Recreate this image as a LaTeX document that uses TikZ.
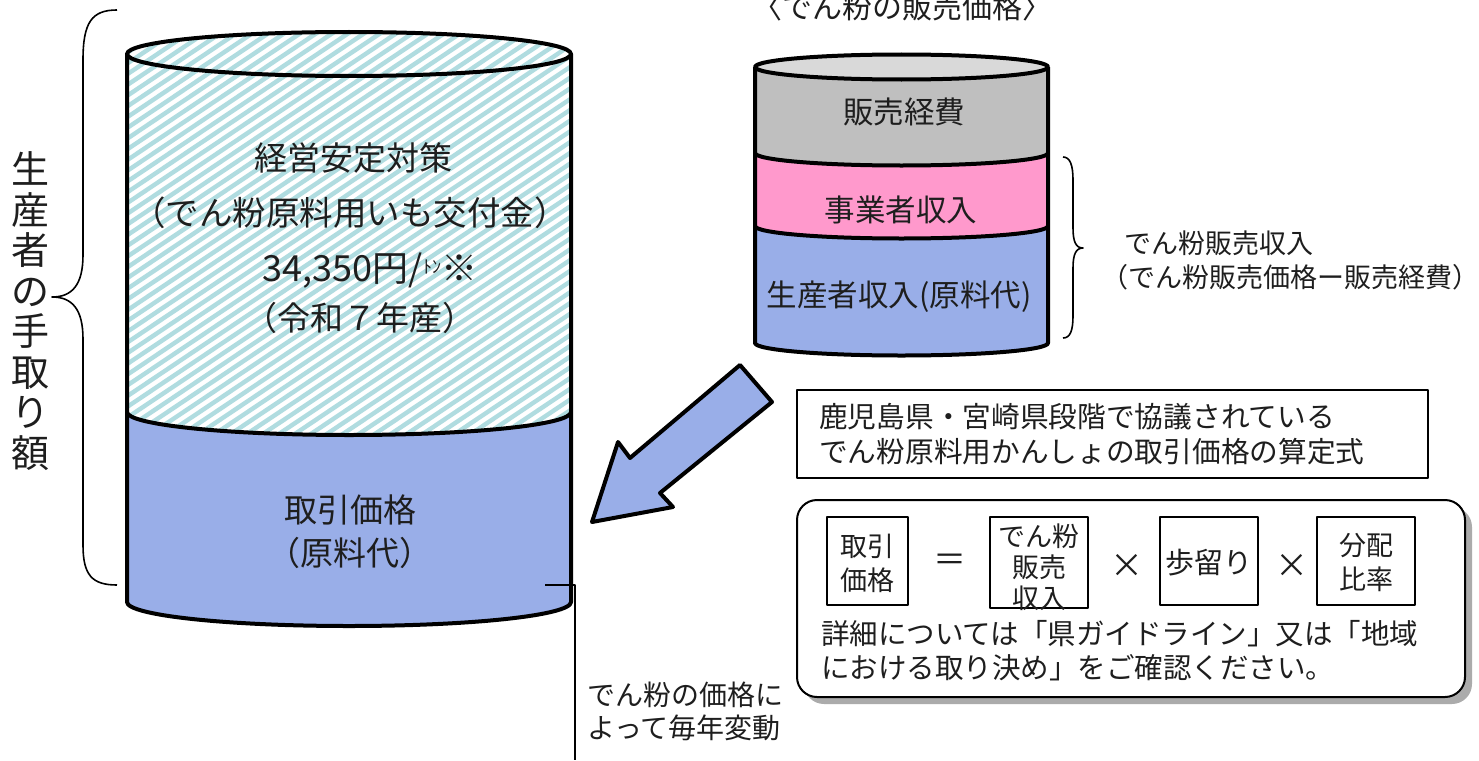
\documentclass[tikz,border=0pt]{standalone}
\usepackage{fontspec}
\setmainfont{Noto Sans CJK JP}
\usetikzlibrary{shadows}
\definecolor{cylblue}{RGB}{153,174,232}
\definecolor{cylpink}{RGB}{255,153,204}
\definecolor{cylgray}{RGB}{191,191,191}
\definecolor{cyltop}{RGB}{217,217,217}
\definecolor{hatchc}{RGB}{176,220,224}
\definecolor{inkc}{RGB}{30,30,30}
\begin{document}
\begin{tikzpicture}[x=1pt,y=-1pt,line join=round,
  outline/.style={draw=black,line width=4pt},
  hatch/.style={draw=hatchc,line width=4.4pt},
  thinbox/.style={draw=black,line width=2pt,inner sep=0pt},
  txt/.style={inner sep=0pt,text=inkc,align=center},
  fs/.style={font=\fontsize{#1}{#1}\selectfont}]
\useasboundingbox (0,0) rectangle (1479,760);

% ---------- left cylinder ----------
\fill[white] (127,54) -- (127,412) arc[start angle=180,end angle=360,x radius=222pt,y radius=23pt] -- (571,54) -- cycle;
\fill[white] (349,54) ellipse[x radius=222pt,y radius=22pt];
\begin{scope}
  \clip (127,54) -- (127,412) arc[start angle=180,end angle=360,x radius=222pt,y radius=23pt] -- (571,54) arc[start angle=0,end angle=180,x radius=222pt,y radius=22pt] -- cycle;
  \foreach \i in {-528,-512,...,560} \draw[hatch] (\i,460) -- ++(686,-460);
\end{scope}
\fill[cylblue] (127,412) arc[start angle=180,end angle=360,x radius=222pt,y radius=23pt] -- (571,602) arc[start angle=0,end angle=-180,x radius=222pt,y radius=24pt] -- cycle;
\draw[outline] (349,54) ellipse[x radius=222pt,y radius=22pt];
\draw[outline] (127,54) -- (127,602) arc[start angle=180,end angle=360,x radius=222pt,y radius=24pt] -- (571,54);
\draw[outline] (127,412) arc[start angle=180,end angle=360,x radius=222pt,y radius=23pt];

\node[txt,fs=33] (l1) at (353,158) {経営安定対策};
\node[txt,fs=33.5] (l2) at (350,213) {（でん粉原料用いも交付金）};
\node[txt,fs=36] (l3) at (370,271) {34,350円/\raisebox{8pt}{\fontsize{18}{18}\selectfont ﾄﾝ}※};
\node[txt,fs=33] (l4) at (360,318) {（令和７年産）};
\node[txt,fs=33] (l5) at (350,510) {取引価格};
\node[txt,fs=33] (l6) at (350,553) {（原料代）};

% ---------- left brace + vertical label ----------
\draw[line width=1.6pt] (117,10) .. controls (92,10) and (83,22) .. (83,60) -- (83,255) .. controls (83,285) and (72,297) .. (52,297) .. controls (72,297) and (83,309) .. (83,339) -- (83,545) .. controls (83,575) and (92,585) .. (117,585);
\node[txt,font=\fontsize{38}{40.5}\selectfont] (vert) at (31,311) {生\\産\\者\\の\\手\\取\\り\\額};

% ---------- title ----------
\node[txt,fs=30] (title) at (902,7) {〈でん粉の販売価格〉};

% ---------- right cylinder ----------
\fill[cylgray] (755,67) -- (755,153) arc[start angle=180,end angle=360,x radius=146.5pt,y radius=12.5pt] -- (1048,67) -- cycle;
\fill[cylpink] (755,153) arc[start angle=180,end angle=360,x radius=146.5pt,y radius=12.5pt] -- (1048,226) arc[start angle=0,end angle=-180,x radius=146.5pt,y radius=12.5pt] -- cycle;
\fill[cylblue] (755,226) arc[start angle=180,end angle=360,x radius=146.5pt,y radius=12.5pt] -- (1048,343) arc[start angle=0,end angle=-180,x radius=146.5pt,y radius=12.5pt] -- cycle;
\draw[outline,fill=cyltop] (901.5,67) ellipse[x radius=146.5pt,y radius=12.5pt];
\draw[outline] (755,67) -- (755,343) arc[start angle=180,end angle=360,x radius=146.5pt,y radius=12.5pt] -- (1048,67);
\draw[outline] (755,153) arc[start angle=180,end angle=360,x radius=146.5pt,y radius=12.5pt];
\draw[outline] (755,226) arc[start angle=180,end angle=360,x radius=146.5pt,y radius=12.5pt];

\node[txt,fs=30.5] (r1) at (904,112) {販売経費};
\node[txt,fs=30.5] (r2) at (901,210) {事業者収入};
\node[txt,fs=30.5] (r3) at (899,297) {生産者収入(原料代)};

% ---------- right brace + label ----------
\draw[line width=1.6pt] (1063,157) .. controls (1070,157) and (1073,165) .. (1073,180) -- (1073,228) .. controls (1073,242) and (1076,248) .. (1083,248) .. controls (1076,248) and (1073,254) .. (1073,268) -- (1073,316) .. controls (1073,331) and (1070,338) .. (1063,338);
\node[txt,fs=27,anchor=west] (s1) at (1124,243) {でん粉販売収入};
\node[txt,fs=27,anchor=west] (s2) at (1101,277) {（でん粉販売価格ー販売経費）};

% ---------- block arrow ----------
\draw[outline,fill=cylblue] (740,365) -- (772,402) -- (660,493) -- (673,507) -- (592,522) -- (618,442) -- (630,458) -- cycle;

% ---------- box 1 ----------
\node[thinbox,minimum width=631pt,minimum height=88pt] (b1) at (1112.5,434) {};
\node[txt,anchor=west,align=left,font=\fontsize{28.7}{35}\selectfont] (b1t) at (819,434) {鹿児島県・宮崎県段階で協議されている\\でん粉原料用かんしょの取引価格の算定式};

% ---------- box 2 ----------
\node[draw=black,line width=2pt,fill=white,rounded corners=20pt,minimum width=668pt,minimum height=197pt,
  drop shadow={shadow xshift=7pt,shadow yshift=-7pt,opacity=0.55,fill=black!60}] (b2) at (1131,598.5) {};
\node[thinbox,minimum width=81pt,minimum height=88pt] (f1) at (867.5,561) {};
\node[txt,font=\fontsize{27}{34}\selectfont] (f1t) at (867.5,563) {取引\\価格};
\node[txt,fs=33] (eq) at (950,563) {＝};
\node[thinbox,minimum width=98pt,minimum height=91pt] (f2) at (1039,562.5) {};
\node[txt,font=\fontsize{27}{31}\selectfont] (f2t) at (1039,567) {でん粉\\販売\\収入};
\node[txt,fs=33] (x1) at (1127,566) {×};
\node[thinbox,minimum width=98pt,minimum height=88pt] (f3) at (1209,561) {};
\node[txt,fs=29] (f3t) at (1209,563) {歩留り};
\node[txt,fs=33] (x2) at (1292,566) {×};
\node[thinbox,minimum width=98pt,minimum height=88pt] (f4) at (1366,561) {};
\node[txt,font=\fontsize{27}{34}\selectfont] (f4t) at (1366,563) {分配\\比率};
\node[txt,anchor=west,align=left,font=\fontsize{28.5}{34}\selectfont] (b2t) at (821,651) {詳細については「県ガイドライン」又は「地域\\における取り決め」をご確認ください。};

% ---------- leader line ----------
\coordinate (leadA) at (545,585);
\coordinate (leadB) at (575,585);
\coordinate (leadC) at (575,760);
\draw[line width=1.3pt] (leadA) -- (leadB) -- (leadC);
\node[txt,anchor=west,align=left,font=\fontsize{28}{33}\selectfont] (lead) at (587,711) {でん粉の価格に\\よって毎年変動};
\end{tikzpicture}
\end{document}
